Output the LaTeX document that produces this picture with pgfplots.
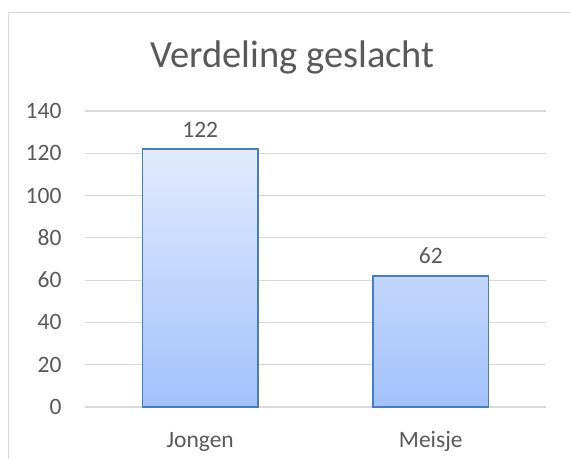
\documentclass[border=0pt]{standalone}
\usepackage{pgfplots}
\pgfplotsset{compat=1.18}
\usepackage{fontspec}
\setmainfont{Carlito}
\definecolor{txt}{HTML}{595959}
\definecolor{gridc}{HTML}{D9D9D9}
\definecolor{barline}{HTML}{4A7EBB}
\definecolor{bartop}{HTML}{E1EBFE}
\definecolor{barbot}{HTML}{A3C1FB}
\begin{document}
\begin{tikzpicture}[x=1bp,y=1bp]
\useasboundingbox (0,0) rectangle (570,459);
\draw[gridc, line width=1.5bp] (8.5,0) -- (8.5,446.5) -- (570,446.5);
\node[txt, anchor=base, font=\fontsize{38.5bp}{40bp}\selectfont] at (292.5,391) {Verdeling geslacht};
\begin{axis}[
  at={(85bp,52bp)}, anchor=south west,
  scale only axis, width=461bp, height=296bp,
  xmin=-0.5, xmax=1.5, ymin=0, ymax=140,
  ytick={0,20,...,140},
  xtick={0,1}, xticklabels={Jongen,Meisje},
  axis line style={draw=none},
  major tick length=0pt,
  ymajorgrids, grid style={gridc, line width=1.2bp},
  /pgf/number format/assume math mode=true,
  tick label style={txt, font=\fontsize{23.5bp}{26bp}\selectfont},
  yticklabel style={anchor=east, xshift=-20bp},
  xticklabel style={anchor=base, yshift=-41bp},
  clip=false,
]
\addplot[ybar, bar width=0.5, draw=barline, line width=1.3bp,
  top color=bartop, bottom color=barbot,
  nodes near coords,
  every node near coord/.append style={txt, anchor=base, yshift=12bp, font=\fontsize{23.5bp}{26bp}\selectfont}
] coordinates {(0,122) (1,62)};
\end{axis}
\end{tikzpicture}
\end{document}
